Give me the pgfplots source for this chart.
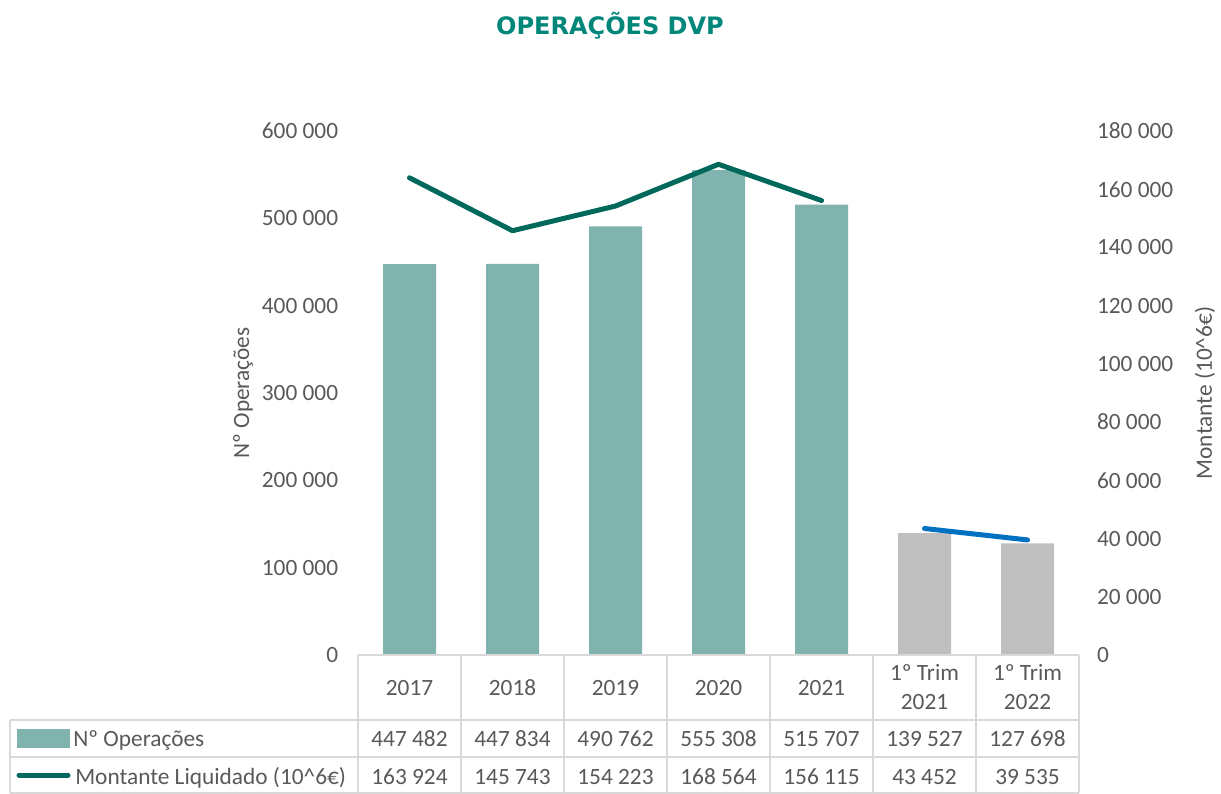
\documentclass[border=0pt]{standalone}
\usepackage{fontspec}
\setmainfont{Carlito}
\newfontfamily\titlefont{DejaVu Sans}
\usepackage{pgfplots}
\pgfplotsset{compat=1.18}
\definecolor{barteal}{HTML}{80B3AD}
\definecolor{bargrey}{HTML}{BFBFBF}
\definecolor{lineteal}{HTML}{00695C}
\definecolor{lineblue}{HTML}{0070C0}
\definecolor{titleteal}{HTML}{00877A}
\definecolor{txt}{HTML}{595959}
\definecolor{gridc}{HTML}{D9D9D9}
\newcommand{\fs}{\fontsize{17.5}{21.75}\selectfont}
\begin{document}
\begin{tikzpicture}
\path[use as bounding box] (0,0) rectangle (915.75pt,594.75pt);
\pgfplotsset{common/.style={
  at={(268.5pt,103.5pt)}, anchor=south west,
  scale only axis, width=540.75pt, height=393pt,
  xmin=-0.5, xmax=6.5, xtick=\empty,
  axis x line*=bottom,
  axis line style={draw=none}, major tick length=0pt,
  scaled y ticks=false,
  tick label style={font=\fs, text=txt},
  clip=false,
}}
\begin{axis}[common, axis y line*=left,
  ymin=0, ymax=600000,
  ytick={0,100000,200000,300000,400000,500000,600000},
  yticklabels={0,100~000,200~000,300~000,400~000,500~000,600~000},
  yticklabel style={xshift=-11.4pt},
  ylabel={Nº Operações},
  every axis y label/.style={at={(rel axis cs:0,0.5)}, xshift=-86.25pt, rotate=90, anchor=center, font=\fs, text=txt},
]
\addplot[ybar, bar width=39.75pt, bar shift=0pt, fill=barteal, draw=none] coordinates {(0,447482)(1,447834)(2,490762)(3,555308)(4,515707)};
\addplot[ybar, bar width=39.75pt, bar shift=0pt, fill=bargrey, draw=none] coordinates {(5,139527)(6,127698)};
\end{axis}
\begin{axis}[common, axis y line*=right,
  ymin=0, ymax=180000,
  ytick={0,20000,40000,60000,80000,100000,120000,140000,160000,180000},
  yticklabels={0,20~000,40~000,60~000,80~000,100~000,120~000,140~000,160~000,180~000},
  yticklabel style={xshift=10pt},
  ylabel={Montante (10\textasciicircum 6€)},
  every axis y label/.style={at={(rel axis cs:1,0.5)}, xshift=94.5pt, rotate=90, anchor=center, font=\fs, text=txt},
]
\addplot[lineteal, line width=3.75pt, line cap=round, line join=round, mark=none] coordinates {(0,163924)(1,145743)(2,154223)(3,168564)(4,156115)};
\addplot[lineblue, line width=3.75pt, line cap=round, line join=round, mark=none] coordinates {(5,43452)(6,39535)};
\end{axis}
\begin{scope}[x=0.75pt, y=-0.75pt, shift={(0pt,594.75pt)}]
\node[font=\titlefont\bfseries\fontsize{18}{22}\selectfont, text=titleteal, anchor=base, inner sep=0pt] at (610,35) {OPERAÇÕES DVP};
\begin{scope}[draw=gridc, line width=1.5pt]
\draw (358,655) -- (1079,655);
\draw (10,720) -- (1079,720);
\draw (10,757) -- (1079,757);
\draw (10,792.5) -- (1079,792.5);
\draw (10,720) -- (10,793);
\foreach \k in {0,...,7} { \draw ({358+103*\k},655) -- ({358+103*\k},793); }
\end{scope}
\foreach \lab [count=\i from 0] in {2017,2018,2019,2020,2021} {
  \node[font=\fs, text=txt, anchor=base, inner sep=0pt] at ({409.5+103*\i},695.5) {\lab};
}
\foreach \lab [count=\i from 5] in {2021,2022} {
  \node[font=\fs, text=txt, anchor=base, inner sep=0pt] at ({409.5+103*\i},680.5) {1º Trim};
  \node[font=\fs, text=txt, anchor=base, inner sep=0pt] at ({409.5+103*\i},709.5) {\lab};
}
\foreach \v [count=\i from 0] in {447~482,447~834,490~762,555~308,515~707,139~527,127~698} {
  \node[font=\fs, text=txt, anchor=base, inner sep=0pt] at ({409.5+103*\i},746.5) {\v};
}
\foreach \v [count=\i from 0] in {163~924,145~743,154~223,168~564,156~115,43~452,39~535} {
  \node[font=\fs, text=txt, anchor=base, inner sep=0pt] at ({409.5+103*\i},784.5) {\v};
}
\fill[barteal] (17,729) rectangle (70,748);
\draw[lineteal, line width=3.75pt, line cap=round] (19,775) -- (68,775);
\node[font=\fs, text=txt, anchor=base west, inner sep=0pt] at (73,746.5) {Nº Operações};
\node[font=\fs, text=txt, anchor=base west, inner sep=0pt] at (75,784.5) {Montante Liquidado (10\textasciicircum 6€)};
\end{scope}
\end{tikzpicture}
\end{document}
